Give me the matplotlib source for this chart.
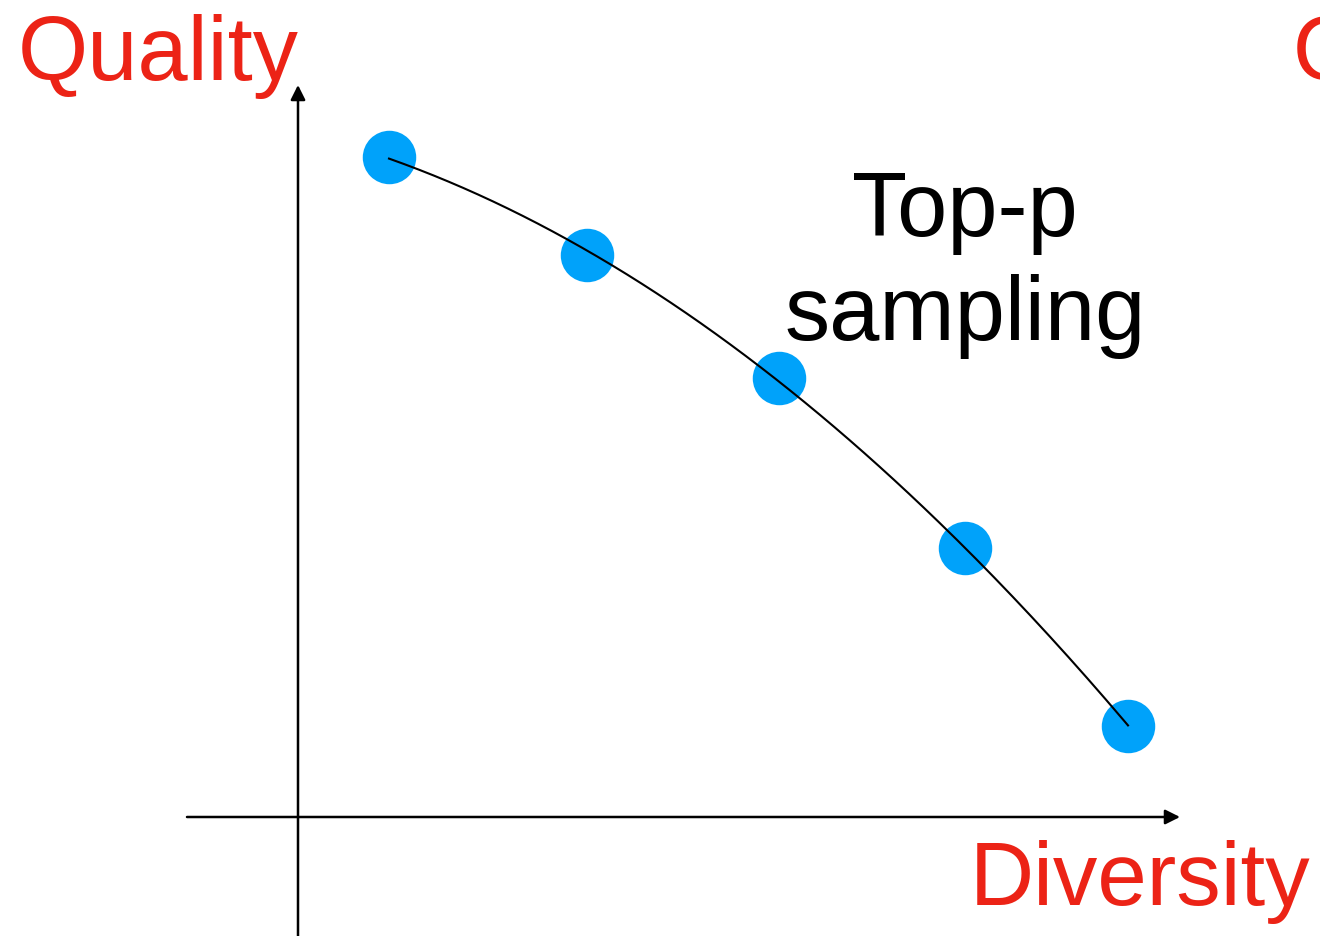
import numpy as np
import matplotlib
matplotlib.use("Agg")
import matplotlib.pyplot as plt

# Data (arbitrary units)
diversity = [0.91, 2.89, 4.81, 6.67, 8.30]
quality = [6.60, 5.62, 4.39, 2.69, 0.91]
x_label = "Diversity"
y_label = "Quality"
method_lines = ["Top-p", "sampling"]

RED = "#EC2316"
BLUE = "#00A2FA"
FONT = "Liberation Sans"

fig = plt.figure(figsize=(13.2, 9.36), dpi=100)
ax = fig.add_axes([0, 0, 1, 1])
ax.set_xlim(-2.98, 10.22)
ax.set_ylim(-1.19, 8.17)
ax.axis("off")

# axes arrows
ax.annotate("", xy=(0, 7.32), xytext=(0, -1.19),
            arrowprops=dict(arrowstyle="-|>", lw=1.8, color="black",
                            mutation_scale=22, shrinkA=0, shrinkB=0))
ax.annotate("", xy=(8.82, 0), xytext=(-1.11, 0),
            arrowprops=dict(arrowstyle="-|>", lw=1.8, color="black",
                            mutation_scale=22, shrinkA=0, shrinkB=0))

# points
ax.plot(diversity, quality, "o", color=BLUE, markersize=38.5, markeredgewidth=0, zorder=3)

# smooth trend curve through the points
coef = np.polyfit(diversity, quality, 2)
xs = np.linspace(diversity[0], diversity[-1], 200)
ax.plot(xs, np.polyval(coef, xs), color="black", lw=1.5, zorder=4)

# texts
ax.text(-2.80, 7.37, y_label, color=RED, fontsize=65, family=FONT, va="baseline", ha="left")
ax.text(9.95, 7.37, y_label, color=RED, fontsize=65, family=FONT, va="baseline", ha="left")
ax.text(6.72, -0.88, x_label, color=RED, fontsize=64, family=FONT, va="baseline", ha="left")
ax.text(6.67, 5.81, method_lines[0], color="black", fontsize=65, family=FONT, va="baseline", ha="center")
ax.text(6.67, 4.77, method_lines[1], color="black", fontsize=65, family=FONT, va="baseline", ha="center")

fig.savefig("out.png", dpi=100)
